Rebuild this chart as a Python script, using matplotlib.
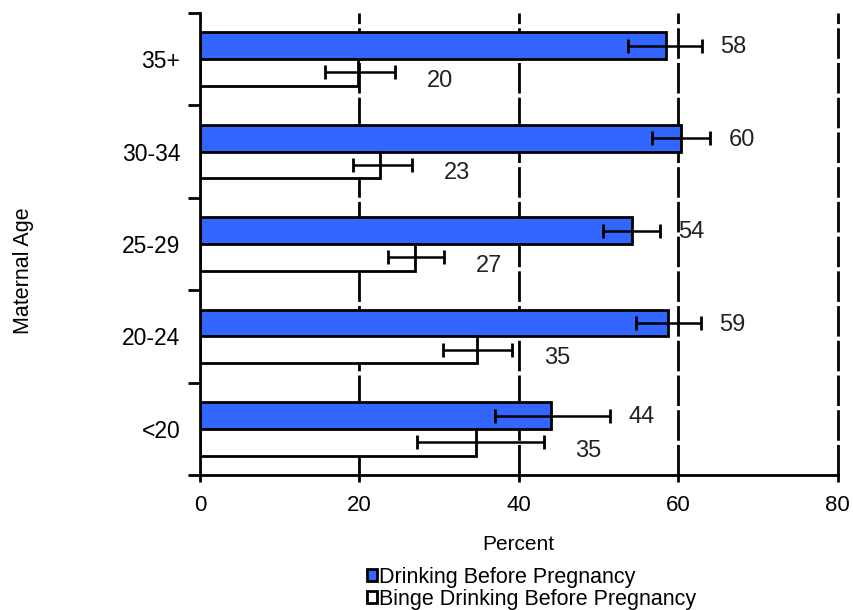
import matplotlib.pyplot as plt
import numpy as np
from matplotlib.patches import Patch

plt.rcParams['font.family'] = ['Liberation Sans', 'DejaVu Sans']

# data, bottom to top
ages = ["<20", "20-24", "25-29", "30-34", "35+"]
drinking = [44.1, 58.7, 54.2, 60.4, 58.4]
drink_lo = [37.0, 54.7, 50.5, 56.7, 53.7]
drink_hi = [51.4, 62.8, 57.7, 64.0, 63.0]
binge = [34.6, 34.7, 27.0, 22.6, 19.8]
binge_lo = [27.2, 30.5, 23.6, 19.2, 15.7]
binge_hi = [43.1, 39.2, 30.6, 26.6, 24.5]
drink_labels = ["44", "59", "54", "60", "58"]
binge_labels = ["35", "35", "27", "23", "20"]

fig = plt.figure(figsize=(8.54, 6.10), dpi=100)
ax = fig.add_axes([0.234, 0.221, 0.747, 0.758])

y = np.arange(len(ages))
h = 0.29
d = np.array(drinking)
b = np.array(binge)

# dashed grid behind bars
for gx in [20, 40, 60, 80]:
    ax.axvline(gx, color="black", lw=2, ls=(0, (11, 1.5)), zorder=0, clip_on=False)

ax.barh(y + h / 2, d, height=h, color="#3366ff", edgecolor="black", lw=2, zorder=2)
ax.barh(y - h / 2, b, height=h, color="white", edgecolor="black", lw=2, zorder=2)

ax.errorbar(d, y + h / 2, xerr=[d - np.array(drink_lo), np.array(drink_hi) - d],
            fmt="none", ecolor="black", elinewidth=1.8, capsize=5, capthick=2, zorder=3)
ax.errorbar(b, y - h / 2, xerr=[b - np.array(binge_lo), np.array(binge_hi) - b],
            fmt="none", ecolor="black", elinewidth=1.8, capsize=5, capthick=2, zorder=3)

for i in range(len(ages)):
    ax.text(drink_hi[i] + 2.3, y[i] + h / 2 - 0.02, drink_labels[i], fontsize=17,
            color="#222222", va="center", ha="left")
    ax.text(binge_hi[i] + 4, y[i] - h / 2 - 0.09, binge_labels[i], fontsize=17,
            color="#222222", va="center", ha="left")

ax.set_xlim(0, 80)
ax.set_ylim(-0.5, 4.5)
ax.set_xticks([0, 20, 40, 60, 80])
ax.tick_params(axis="x", labelsize=16, length=5, width=2, pad=9)

ax.set_yticks(np.arange(-0.5, 5, 1))
ax.set_yticklabels([])
ax.set_yticks(y, minor=True)
ax.set_yticklabels(ages, minor=True, fontsize=16.5)
ax.tick_params(axis="y", which="major", length=9, width=2, direction="out")
ax.tick_params(axis="y", which="minor", length=0, pad=14)

ax.spines["top"].set_visible(False)
ax.spines["right"].set_visible(False)
ax.spines["left"].set_linewidth(2)
ax.spines["bottom"].set_linewidth(2)

ax.set_xlabel("Percent", fontsize=15, labelpad=14)
fig.text(0.027, 0.556, "Maternal Age", rotation=90, fontsize=15.5, va="center", ha="center")

handles = [Patch(facecolor="#3366ff", edgecolor="black", lw=2, label="Drinking Before Pregnancy"),
           Patch(facecolor="white", edgecolor="black", lw=2, label="Binge Drinking Before Pregnancy")]
fig.legend(handles=handles, loc="upper left", bbox_to_anchor=(0.43, 0.071), frameon=False,
           fontsize=15.5, handlelength=0.45, handleheight=0.45, handletextpad=0.1, labelspacing=0.05,
           borderpad=0, borderaxespad=0)

fig.savefig("out.png", dpi=100)
